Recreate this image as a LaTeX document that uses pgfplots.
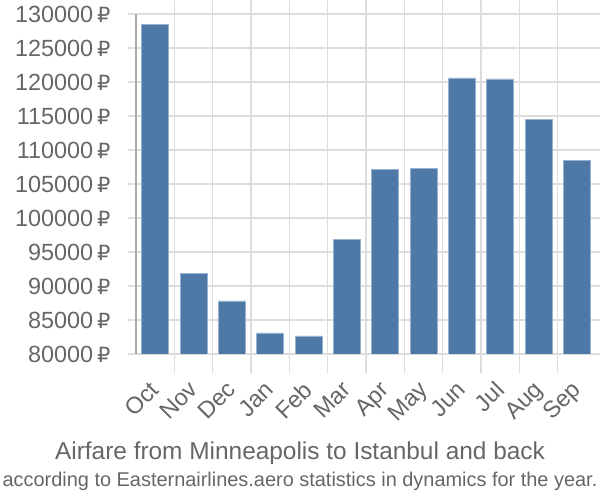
\documentclass[border=0pt]{standalone}
\usepackage{pgfplots}
\pgfplotsset{compat=1.18}
\usepackage{fontspec}
\setmainfont{Liberation Sans}
\newfontfamily\dejavu{DejaVu Sans}
\definecolor{barc}{RGB}{78,121,167}
\definecolor{barline}{RGB}{150,178,210}
\definecolor{gridc}{RGB}{221,221,221}
\definecolor{txt}{RGB}{102,102,102}
\definecolor{axl}{RGB}{170,170,170}
\begin{document}
\begin{tikzpicture}[x=1bp,y=1bp]
\useasboundingbox (-136,-146) rectangle (464,354);
\begin{axis}[
  at={(0,0)}, anchor=south west,
  scale only axis, width=460bp, height=340bp,
  ymin=80000, ymax=130000, ytick={80000,85000,...,130000},
  scaled y ticks=false,
  xmin=-0.5, xmax=11.5,
  xtick={0,...,11},
  xticklabels={Oct,Nov,Dec,Jan,Feb,Mar,Apr,May,Jun,Jul,Aug,Sep},
  minor xtick={0.5,1.5,...,10.5},
  extra x ticks={-0.5}, extra x tick labels={},
  extra x tick style={xmajorgrids=true, major grid style={draw=axl, line width=1.6bp}, major tick length=19bp, tick style={draw=axl, line width=1.6bp}},
  tick align=outside,
  major x tick style={draw=none},
  minor tick length=19bp,
  minor tick style={draw=gridc, line width=1.5bp},
  major y tick style={draw=gridc, line width=1.5bp},
  major tick length=8bp,
  ymajorgrids, xminorgrids,
  grid style={draw=gridc, line width=1.5bp},
  axis line style={draw=none},
  ticklabel style={font=\fontsize{23.5}{26}\selectfont, text=txt},
  /pgf/number format/assume math mode=true,
  yticklabel={\pgfmathprintnumber[fixed,precision=0,1000 sep={}]{\tick}\,{\dejavu\fontsize{21}{24}\selectfont ₽}},
  yticklabel style={anchor=east, xshift=-14bp},
  xticklabel style={rotate=45, anchor=north east, inner sep=0pt, yshift=-8bp, xshift=-17bp},
  ybar, bar width=27bp,
  clip=true,
]
\addplot[fill=barc, draw=barline, line width=0.8bp] coordinates {
(0,128400) (1,91900) (2,87800) (3,83100) (4,82650) (5,96800)
(6,107100) (7,107350) (8,120600) (9,120450) (10,114550) (11,108400)};
\end{axis}
\node[text=txt, anchor=base, font=\fontsize{24.5}{28}\selectfont] at (164,-106) {Airfare from Minneapolis to Istanbul and back};
\node[text=txt, anchor=base, font=\fontsize{20}{24}\selectfont] at (164,-132) {according to Easternairlines.aero statistics in dynamics for the year.};
\end{tikzpicture}
\end{document}
